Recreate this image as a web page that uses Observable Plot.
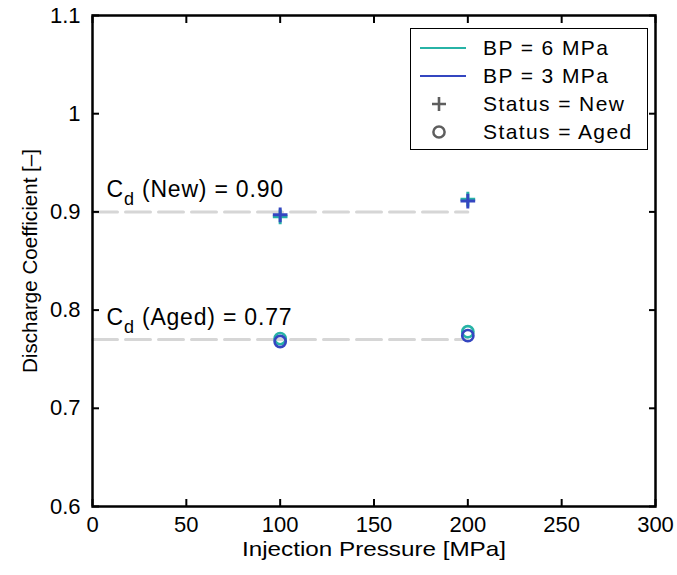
<!DOCTYPE html>
<html><head><meta charset="utf-8">
<script src="https://cdn.jsdelivr.net/npm/d3@7"></script>
<script src="https://cdn.jsdelivr.net/npm/@observablehq/plot@0.6"></script>
<style>
body{margin:0;background:#fff;}
#wrap{position:relative;width:677px;height:575px;font-family:"Liberation Sans",Arial,Helvetica,sans-serif;}
#legend{position:absolute;left:410px;top:28px;width:238px;height:122px;border:1.5px solid #000;background:#fff;box-sizing:border-box;}
#legend .row{position:absolute;left:0;height:28px;display:flex;align-items:center;}
#legend .row span{font-size:21px;color:#000;margin-left:14px;letter-spacing:1.4px;white-space:nowrap;}
</style></head><body><div id="wrap"></div>
<script>
// ---- data ----
const pressure = [100, 200];
const cdNewBP6 = [0.895, 0.913];
const cdNewBP3 = [0.897, 0.911];
const cdAgedBP6 = [0.771, 0.778];
const cdAgedBP3 = [0.768, 0.774];
const seriesNames = ["BP = 6 MPa", "BP = 3 MPa"];
const seriesColors = ["#27b3a6", "#3446c0"];
const statusNames = ["Status = New", "Status = Aged"];
const refLabels = ["C_d (New) = 0.90", "C_d (Aged) = 0.77"];
const refValues = [0.90, 0.77];
const refExtent = [0, 200];
const xTicks = [0, 50, 100, 150, 200, 250, 300];
const yTicks = [0.6, 0.7, 0.8, 0.9, 1, 1.1];
const xLabel = "Injection Pressure [MPa]";
const yLabel = "Discharge Coefficient [–]";

// ---- tables ----
const newVals = [cdNewBP6, cdNewBP3];
const agedVals = [cdAgedBP6, cdAgedBP3];
const newPts = [], agedPts = [];
seriesNames.forEach((s, k) => {
  pressure.forEach((p, i) => {
    newPts.push({p, cd: newVals[k][i], bp: s});
    agedPts.push({p, cd: agedVals[k][i], bp: s});
  });
});
const refLines = refValues.flatMap((v, i) => refExtent.map(x => ({x, y: v, k: i})));
const refText = refValues.map((v, i) => ({x: refExtent[0], y: v, label: refLabels[i]}));
const colorOf = Object.fromEntries(seriesNames.map((s, i) => [s, seriesColors[i]]));

const font = "Liberation Sans, Arial, Helvetica, sans-serif";
const chart = Plot.plot({
  width: 677, height: 575,
  marginLeft: 92, marginRight: 22, marginTop: 15, marginBottom: 69,
  style: {fontFamily: font, fontSize: "22px", color: "#000", background: "#fff"},
  x: {domain: [0, 300]},
  y: {domain: [0.6, 1.1]},
  marks: [
    Plot.line(refLines, {x: "x", y: "y", z: "k", stroke: "#d6d6d6", strokeWidth: 3, strokeDasharray: "25,8"}),
    Plot.text(refText, {x: "x", y: "y", text: "label", textAnchor: "start", dx: 14, dy: -22, fontSize: 23, fill: "#000", className: "cdlab"}),
    ...seriesNames.map(s => Plot.dot(newPts.filter(d => d.bp === s), {x: "p", y: "cd", symbol: "plus", r: 4.8, stroke: colorOf[s], strokeWidth: 3})),
    ...seriesNames.map(s => Plot.dot(agedPts.filter(d => d.bp === s), {x: "p", y: "cd", symbol: "circle", r: 5.6, stroke: colorOf[s], strokeWidth: 2.6, fill: "none"})),
    Plot.axisX({ticks: xTicks, tickSize: 0, tickPadding: 10, label: null, fontSize: 22}),
    Plot.axisY({ticks: yTicks, tickSize: 0, tickPadding: 12, label: null, fontSize: 22, tickFormat: d => String(d)}),
    Plot.axisX({ticks: xTicks, tickSize: -7, tickFormat: () => "", label: null, strokeWidth: 2}),
    Plot.axisX({anchor: "top", ticks: xTicks, tickSize: -7, tickFormat: () => "", label: null, strokeWidth: 2}),
    Plot.axisY({ticks: yTicks, tickSize: -7, tickFormat: () => "", label: null, strokeWidth: 2}),
    Plot.axisY({anchor: "right", ticks: yTicks, tickSize: -7, tickFormat: () => "", label: null, strokeWidth: 2}),
    Plot.frame({stroke: "#000", strokeWidth: 2.5}),
    Plot.text([xLabel], {frameAnchor: "bottom", textAnchor: "middle", dy: 49, fontSize: 21, fill: "#000", text: d => d, className: "xlab"}),
    Plot.text([yLabel], {frameAnchor: "left", textAnchor: "middle", dx: -62, rotate: -90, fontSize: 20, fill: "#000", text: d => d, className: "ylab"})
  ]
});

const ns = "http://www.w3.org/2000/svg";
// subscript for C_d labels
chart.querySelectorAll(".cdlab text").forEach(t => {
  const s = t.textContent;
  if (!s.startsWith("C_d")) return;
  t.textContent = "";
  t.setAttribute("letter-spacing", "0.8");
  const a = document.createElementNS(ns, "tspan"); a.textContent = "C";
  const b = document.createElementNS(ns, "tspan"); b.textContent = "d"; b.setAttribute("dy", "8"); b.setAttribute("font-size", "18");
  const c = document.createElementNS(ns, "tspan"); c.textContent = s.slice(3); c.setAttribute("dy", "-8");
  t.append(a, b, c);
});
// stretch axis titles to the reference lengths
chart.querySelectorAll(".xlab text").forEach(t => { t.setAttribute("textLength", "264"); t.setAttribute("lengthAdjust", "spacingAndGlyphs"); });
chart.querySelectorAll(".ylab text").forEach(t => { t.setAttribute("textLength", "224"); t.setAttribute("lengthAdjust", "spacingAndGlyphs"); });

const wrap = document.getElementById("wrap");
wrap.appendChild(chart);

// legend overlay
const leg = document.createElement("div");
leg.id = "legend";
const entries = [
  {type: "line", color: seriesColors[0], label: seriesNames[0]},
  {type: "line", color: seriesColors[1], label: seriesNames[1]},
  {type: "plus", color: "#5e5e5e", label: statusNames[0]},
  {type: "circle", color: "#5e5e5e", label: statusNames[1]}
];
entries.forEach((e, i) => {
  const row = document.createElement("div");
  row.className = "row";
  row.style.top = (5 + i * 28) + "px";
  let sym = "";
  if (e.type === "line") sym = `<line x1="9" x2="55" y1="14" y2="14" stroke="${e.color}" stroke-width="2.2"/>`;
  if (e.type === "plus") sym = `<path d="M28,7V21M21,14H35" stroke="${e.color}" stroke-width="2.6"/>`;
  if (e.type === "circle") sym = `<circle cx="28" cy="14" r="5.6" fill="none" stroke="${e.color}" stroke-width="2.5"/>`;
  row.innerHTML = `<svg width="58" height="28">${sym}</svg><span>${e.label}</span>`;
  leg.appendChild(row);
});
wrap.appendChild(leg);
</script>
</body></html>
